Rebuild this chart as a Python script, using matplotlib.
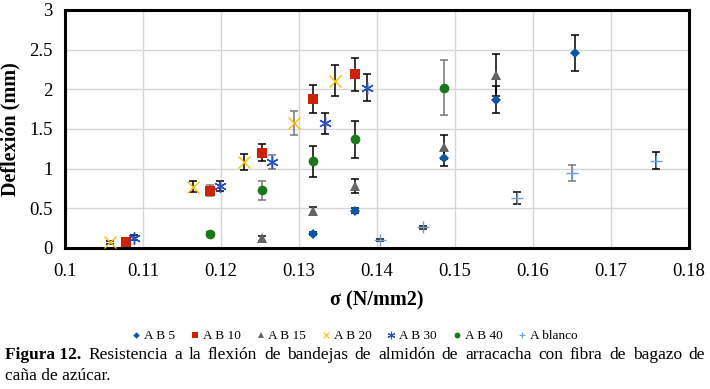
import matplotlib
matplotlib.use("Agg")
import matplotlib.pyplot as plt
from matplotlib.lines import Line2D

# ------------------------------------------------------------------
# Data (sigma in N/mm2, deflection in mm)
# ------------------------------------------------------------------
ab5_x = [0.1318, 0.1372, 0.1486, 0.1553, 0.1654]
ab5_y = [0.18, 0.47, 1.13, 1.87, 2.46]
ab5_err = [0.02, 0.03, 0.10, 0.17, 0.23]

ab10_x = [0.1078, 0.1186, 0.1253, 0.1318, 0.1372]
ab10_y = [0.08, 0.72, 1.20, 1.88, 2.19]
ab10_err = [0.02, 0.07, 0.11, 0.18, 0.21]

ab15_x = [0.1253, 0.1318, 0.1372, 0.1486, 0.1553]
ab15_y = [0.12, 0.47, 0.78, 1.27, 2.18]
ab15_err = [0.03, 0.05, 0.09, 0.15, 0.27]

ab20_x = [0.1058, 0.1164, 0.1229, 0.1294, 0.1346]
ab20_y = [0.07, 0.77, 1.08, 1.57, 2.11]
ab20_err = [0.02, 0.07, 0.10, 0.15, 0.20]

ab30_x = [0.1089, 0.1199, 0.1266, 0.1333, 0.1387]
ab30_y = [0.13, 0.78, 1.08, 1.57, 2.02]
ab30_err = [0.03, 0.06, 0.09, 0.13, 0.17]

ab40_x = [0.1186, 0.1253, 0.1318, 0.1372, 0.1486]
ab40_y = [0.18, 0.73, 1.09, 1.37, 2.02]
ab40_err = [0.02, 0.12, 0.19, 0.23, 0.35]

blanco_x = [0.1404, 0.1459, 0.1580, 0.1650, 0.1758]
blanco_y = [0.10, 0.26, 0.63, 0.94, 1.10]
blanco_err = [0.01, 0.02, 0.07, 0.10, 0.11]

labels = ["A B 5", "A B 10", "A B 15", "A B 20", "A B 30", "A B 40", "A blanco"]

x_ticks = [0.1, 0.11, 0.12, 0.13, 0.14, 0.15, 0.16, 0.17, 0.18]
y_ticks = [0, 0.5, 1, 1.5, 2, 2.5, 3]

caption_bold = "Figura 12."
caption_line1 = "Resistencia a la flexión de bandejas de almidón de arracacha con fibra de bagazo de"
caption_line2 = "caña de azúcar."

# ------------------------------------------------------------------
# Styles
# ------------------------------------------------------------------
series = [
    (ab5_x, ab5_y, ab5_err),
    (ab10_x, ab10_y, ab10_err),
    (ab15_x, ab15_y, ab15_err),
    (ab20_x, ab20_y, ab20_err),
    (ab30_x, ab30_y, ab30_err),
    (ab40_x, ab40_y, ab40_err),
    (blanco_x, blanco_y, blanco_err),
]
styles = [
    dict(marker="D", color="#0a56a6", ms=5.5, mew=0),
    dict(marker="s", color="#cc2200", ms=7, mew=0),
    dict(marker="^", color="#646464", ms=7, mew=0),
    dict(marker="x", color="#ffbf00", ms=8, mew=1.0),
    dict(marker=(6, 2, 0), color="#2a4fc2", ms=9, mew=1.0),
    dict(marker="o", color="#1a781a", ms=7, mew=0),
    dict(marker="+", color="#6fa0dc", ms=8, mew=1.0),
]
# error-bar colour per point (black or grey as in the original)
K, G = "black", "#777777"
err_colors = [
    [K, K, K, K, K],
    [K, G, K, K, K],
    [K, K, K, K, K],
    [K, K, K, G, K],
    [K, K, G, K, K],
    [K, G, K, K, G],
    [K, K, K, G, K],
]

serif = "Liberation Serif"
plt.rcParams["font.family"] = [serif, "DejaVu Serif"]

fig = plt.figure(figsize=(7.10, 3.89), dpi=100)
ax = fig.add_axes([0.0915, 0.3625, 0.8785, 0.612])

for (xs, ys, es), st, ecs in zip(series, styles, err_colors):
    for x, y, e, ec in zip(xs, ys, es, ecs):
        ax.errorbar(x, y, yerr=e, fmt="none", ecolor=ec, elinewidth=1.1,
                    capsize=3, capthick=1.1, zorder=2)
    ax.plot(xs, ys, linestyle="none", marker=st["marker"], color=st["color"],
            markersize=st["ms"], markeredgewidth=st["mew"], zorder=3)

ax.set_xlim(0.1, 0.18)
ax.set_ylim(0, 3)
ax.set_xticks(x_ticks)
ax.set_xticklabels([f"{t:g}" for t in x_ticks])
ax.set_yticks(y_ticks)
ax.set_yticklabels([f"{t:g}" for t in y_ticks])
ax.tick_params(length=0, labelsize=13.5)
ax.tick_params(axis="x", pad=11)
ax.tick_params(axis="y", pad=9)
ax.grid(True, color="#d6d6d6", linewidth=1)
ax.set_axisbelow(True)
for sp in ax.spines.values():
    sp.set_linewidth(2.2)
    sp.set_color("black")

ax.set_xlabel("σ (N/mm2)", fontsize=14.5, fontweight="bold", labelpad=7)
ax.set_ylabel("Deflexión (mm)", fontsize=14.5, fontweight="bold", labelpad=6)

# Legend below the plot
handles = [
    Line2D([], [], linestyle="none", marker=st["marker"], color=st["color"],
           markersize=st["ms"] * 0.6, markeredgewidth=st["mew"] * 0.8)
    for st in styles
]
fig.legend(handles, labels, loc="center", bbox_to_anchor=(0.5, 0.136), ncol=7,
           frameon=False, fontsize=9.5, handlelength=0.6, handletextpad=0.3,
           columnspacing=1.2)

# Caption, justified first line
fig.canvas.draw()
renderer = fig.canvas.get_renderer()
left_px, right_px = 5, 705
W, H = fig.bbox.width, fig.bbox.height

words = [(caption_bold, "bold")] + [(w, "normal") for w in caption_line1.split()]
y1 = 1 - 355 / 389.0
texts = []
total = 0.0
for w, wt in words:
    t = fig.text(0, y1, w, fontsize=12.5, fontweight=wt, va="center", ha="left")
    bb = t.get_window_extent(renderer)
    texts.append((t, bb.width))
    total += bb.width
gap = (right_px - left_px - total) / (len(texts) - 1)
xpos = left_px
for t, wd in texts:
    t.set_x(xpos / W)
    xpos += wd + gap

fig.text(left_px / W, 1 - 376 / 389.0, caption_line2, fontsize=12.5,
         va="center", ha="left")

fig.savefig("out.png", dpi=100)
